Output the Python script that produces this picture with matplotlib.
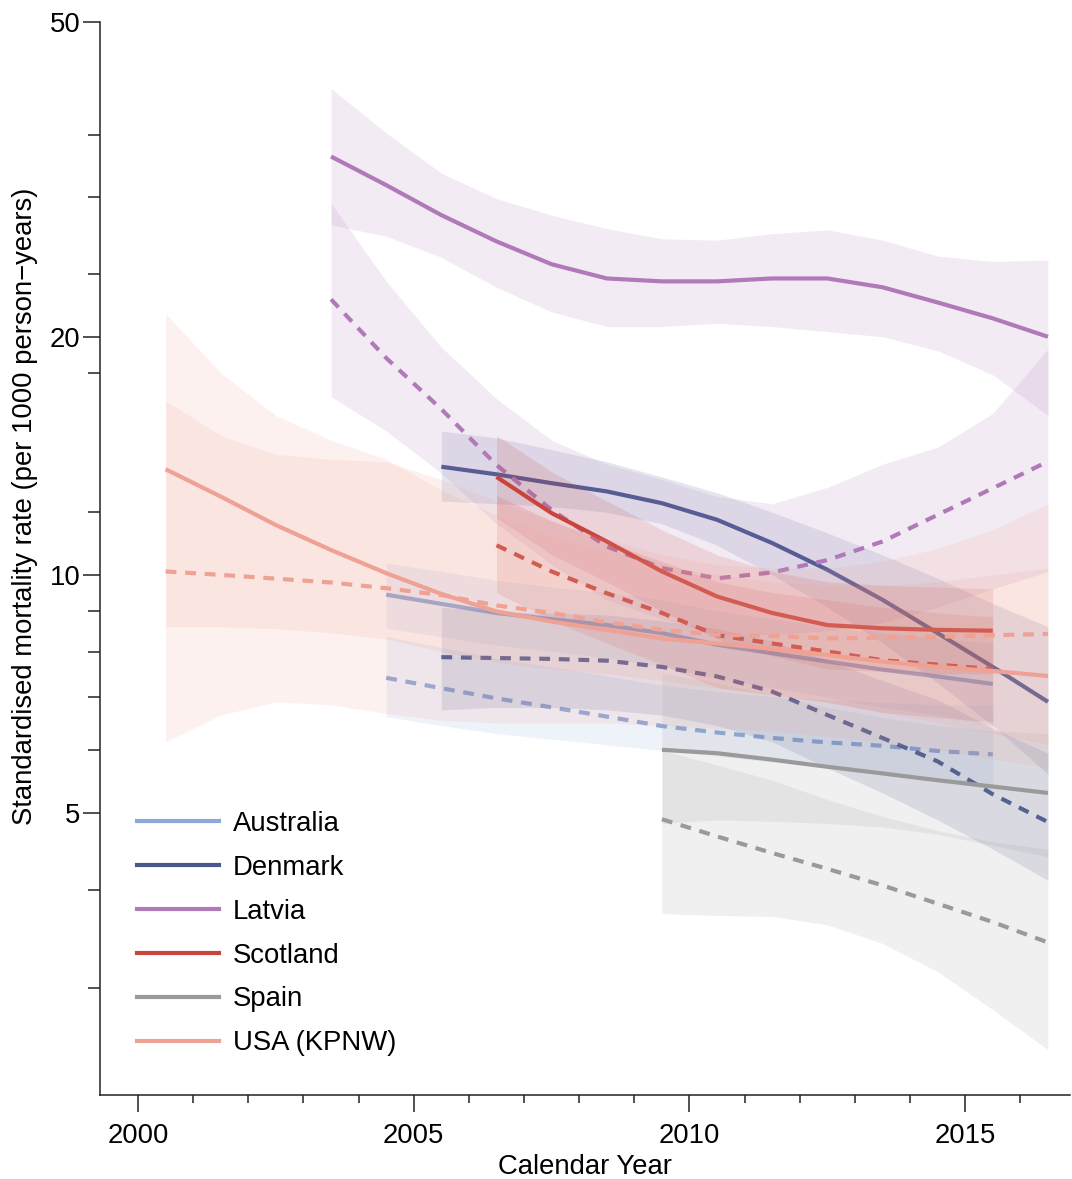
import matplotlib
matplotlib.use("Agg")
import matplotlib.pyplot as plt
from matplotlib.lines import Line2D

plt.rcParams['font.family'] = ['Liberation Sans', 'DejaVu Sans']

countries = ["Australia", "Denmark", "Latvia", "Scotland", "Spain", "USA (KPNW)"]
colors = ["#8EA7D8", "#4A5890", "#B07AB8", "#C9443C", "#9A9A9A", "#EFA193"]

# ---- Australia ----
aus_years = [2004.5, 2005.5, 2006.5, 2007.5, 2008.5, 2009.5, 2010.5, 2011.5, 2012.5, 2013.5, 2014.5, 2015.5]
aus_solid = [9.44, 9.19, 8.95, 8.79, 8.64, 8.44, 8.16, 7.96, 7.77, 7.59, 7.44, 7.28]
aus_solid_hi = [10.35, 10.1, 9.85, 9.65, 9.5, 9.3, 9.0, 8.8, 8.6, 8.45, 8.3, 8.2]
aus_solid_lo = [8.56, 8.35, 8.15, 8.0, 7.85, 7.65, 7.4, 7.2, 7.0, 6.8, 6.65, 6.45]
aus_dash = [7.41, 7.19, 6.98, 6.80, 6.62, 6.44, 6.32, 6.22, 6.14, 6.08, 5.99, 5.93]
aus_dash_hi = [8.36, 8.1, 7.85, 7.65, 7.45, 7.25, 7.12, 7.02, 6.95, 6.9, 6.85, 6.85]
aus_dash_lo = [6.62, 6.45, 6.3, 6.2, 6.1, 6.0, 5.9, 5.8, 5.7, 5.6, 5.5, 5.35]

# ---- Denmark ----
den_years = [2005.5, 2006.5, 2007.5, 2008.5, 2009.5, 2010.5, 2011.5, 2012.5, 2013.5, 2014.5, 2015.5, 2016.5]
den_solid = [13.7, 13.4, 13.06, 12.75, 12.32, 11.74, 10.97, 10.15, 9.30, 8.44, 7.65, 6.91]
den_solid_hi = [15.2, 14.9, 14.4, 13.9, 13.3, 12.7, 12.0, 11.3, 10.6, 9.9, 9.2, 8.6]
den_solid_lo = [12.4, 12.3, 12.2, 12.0, 11.6, 10.9, 10.0, 9.1, 8.2, 7.3, 6.45, 5.6]
den_dash = [7.87, 7.85, 7.83, 7.79, 7.65, 7.44, 7.12, 6.65, 6.22, 5.81, 5.28, 4.87]
den_dash_hi = [9.1, 9.0, 8.95, 8.9, 8.75, 8.55, 8.25, 7.8, 7.35, 6.95, 6.4, 5.95]
den_dash_lo = [6.75, 6.8, 6.8, 6.75, 6.65, 6.45, 6.15, 5.7, 5.3, 4.9, 4.5, 4.11]

# ---- Latvia ----
lat_years = [2003.5, 2004.5, 2005.5, 2006.5, 2007.5, 2008.5, 2009.5, 2010.5, 2011.5, 2012.5, 2013.5, 2014.5, 2015.5, 2016.5]
lat_solid = [33.8, 31.1, 28.5, 26.4, 24.7, 23.7, 23.5, 23.5, 23.7, 23.7, 23.1, 22.1, 21.1, 20.0]
lat_solid_hi = [41.2, 36.2, 32.2, 29.9, 28.5, 27.4, 26.6, 26.5, 27.0, 27.3, 26.5, 25.3, 24.9, 25.0]
lat_solid_lo = [27.7, 26.8, 25.2, 23.1, 21.5, 20.6, 20.6, 20.8, 20.6, 20.3, 20.0, 19.2, 17.9, 15.9]
lat_dash = [22.3, 18.8, 16.2, 13.77, 12.08, 10.86, 10.2, 9.90, 10.07, 10.44, 11.02, 11.91, 12.87, 13.91]
lat_dash_hi = [29.5, 23.5, 19.4, 16.7, 14.8, 13.8, 13.2, 12.56, 12.3, 12.9, 13.8, 14.5, 16.0, 19.3]
lat_dash_lo = [16.8, 15.2, 13.45, 11.6, 10.3, 9.3, 8.8, 8.4, 8.4, 8.5, 8.7, 9.1, 9.6, 10.1]

# ---- Scotland ----
sco_years = [2006.5, 2007.5, 2008.5, 2009.5, 2010.5, 2011.5, 2012.5, 2013.5, 2014.5, 2015.5]
sco_solid = [13.3, 11.97, 11.02, 10.1, 9.39, 8.95, 8.64, 8.56, 8.52, 8.50]
sco_solid_hi = [15.0, 13.5, 12.4, 11.4, 10.6, 10.1, 9.8, 9.7, 9.65, 9.6]
sco_solid_lo = [11.8, 10.6, 9.8, 9.0, 8.3, 7.9, 7.6, 7.55, 7.5, 7.5]
sco_dash = [10.9, 10.1, 9.48, 8.95, 8.39, 8.19, 8.00, 7.80, 7.70, 7.60]
sco_dash_hi = [12.6, 11.7, 11.0, 10.4, 9.8, 9.5, 9.3, 9.1, 8.95, 8.85]
sco_dash_lo = [9.5, 8.75, 8.2, 7.7, 7.2, 7.05, 6.9, 6.7, 6.6, 6.52]

# ---- Spain ----
spa_years = [2009.5, 2010.5, 2011.5, 2012.5, 2013.5, 2014.5, 2015.5, 2016.5]
spa_solid = [6.01, 5.95, 5.84, 5.72, 5.61, 5.50, 5.40, 5.30]
spa_solid_hi = [7.51, 7.3, 7.05, 6.8, 6.6, 6.45, 6.35, 6.3]
spa_solid_lo = [4.85, 4.9, 4.88, 4.85, 4.8, 4.7, 4.55, 4.4]
spa_dash = [4.91, 4.67, 4.45, 4.25, 4.05, 3.84, 3.64, 3.43]
spa_dash_hi = [6.0, 5.75, 5.5, 5.2, 4.95, 4.75, 4.6, 4.5]
spa_dash_lo = [3.73, 3.71, 3.70, 3.61, 3.42, 3.15, 2.82, 2.51]

# ---- USA (KPNW) ----
usa_years = [2000.5, 2001.5, 2002.5, 2003.5, 2004.5, 2005.5, 2006.5, 2007.5, 2008.5,
             2009.5, 2010.5, 2011.5, 2012.5, 2013.5, 2014.5, 2015.5, 2016.5]
usa_solid = [13.6, 12.56, 11.56, 10.75, 10.05, 9.46, 8.99, 8.73, 8.52, 8.31, 8.19, 8.06, 7.92, 7.77, 7.65, 7.56, 7.45]
usa_solid_hi = [21.4, 18.0, 15.9, 14.8, 14.0, 12.8, 11.9, 11.2, 10.7, 10.3, 10.0, 9.8, 9.7, 9.7, 9.8, 10.0, 10.2]
usa_solid_lo = [8.6, 8.6, 8.55, 8.45, 8.3, 8.0, 7.75, 7.6, 7.5, 7.35, 7.2, 7.05, 6.9, 6.7, 6.5, 6.3, 6.1]
usa_dash = [10.1, 10.0, 9.89, 9.78, 9.62, 9.43, 9.15, 8.95, 8.71, 8.52, 8.40, 8.37, 8.31, 8.33, 8.35, 8.39, 8.42]
usa_dash_hi = [16.6, 15.0, 14.2, 14.0, 13.9, 13.2, 12.4, 11.7, 11.1, 10.6, 10.3, 10.2, 10.2, 10.4, 10.8, 11.4, 12.3]
usa_dash_lo = [6.15, 6.65, 6.91, 6.85, 6.68, 6.55, 6.5, 6.5, 6.5, 6.45, 6.4, 6.35, 6.25, 6.15, 6.0, 5.85, 5.7]

series = [
    (aus_years, aus_solid, aus_solid_lo, aus_solid_hi, aus_dash, aus_dash_lo, aus_dash_hi),
    (den_years, den_solid, den_solid_lo, den_solid_hi, den_dash, den_dash_lo, den_dash_hi),
    (lat_years, lat_solid, lat_solid_lo, lat_solid_hi, lat_dash, lat_dash_lo, lat_dash_hi),
    (sco_years, sco_solid, sco_solid_lo, sco_solid_hi, sco_dash, sco_dash_lo, sco_dash_hi),
    (spa_years, spa_solid, spa_solid_lo, spa_solid_hi, spa_dash, spa_dash_lo, spa_dash_hi),
    (usa_years, usa_solid, usa_solid_lo, usa_solid_hi, usa_dash, usa_dash_lo, usa_dash_hi),
]

W, H = 1072, 1179
fig = plt.figure(figsize=(W / 100, H / 100), dpi=100)
ax = fig.add_axes([100 / W, 1 - 1095 / H, 970 / W, 1073 / H])

LW = 3.0
FS = 19.8
band_alpha = 0.145
z = 1
for (yrs, s, slo, shi, d, dlo, dhi), col in zip(series, colors):
    ax.fill_between(yrs, slo, shi, color=col, alpha=band_alpha, lw=0, zorder=z)
    ax.fill_between(yrs, dlo, dhi, color=col, alpha=band_alpha, lw=0, zorder=z + 1)
    ax.plot(yrs, d, color=col, lw=LW, linestyle=(0, (2.6, 2.1)),
            dash_capstyle='butt', zorder=z + 2)
    ax.plot(yrs, s, color=col, lw=LW, solid_capstyle='butt', zorder=z + 3)
    z += 4

ax.set_yscale('log')
ax.set_ylim(2.2, 50)
ax.set_xlim(1999.31, 2016.9)

ax.set_yticks([5, 10, 20, 50])
ax.set_yticklabels(["5", "10", "20", "50"])
ax.set_yticks([3, 4, 6, 7, 8, 9, 12, 18, 24, 30, 36], minor=True)
ax.yaxis.set_minor_formatter(plt.NullFormatter())
ax.set_xticks([2000, 2005, 2010, 2015])
ax.set_xticks(list(range(2001, 2017)), minor=True)

for side in ("top", "right"):
    ax.spines[side].set_visible(False)
for side in ("left", "bottom"):
    ax.spines[side].set_linewidth(1.1)
    ax.spines[side].set_color("#222222")

ax.tick_params(axis='y', which='major', length=12, width=1.1, colors="#222222",
               labelsize=FS, pad=2, labelcolor="black")
ax.tick_params(axis='y', which='minor', length=9, width=1.1, colors="#222222")
ax.tick_params(axis='x', which='major', length=12, width=1.1, colors="#222222",
               labelsize=FS, pad=8, labelcolor="black")
ax.tick_params(axis='x', which='minor', length=5.5, width=1.1, colors="#222222")

ax.set_xlabel("Calendar Year", fontsize=FS, labelpad=3.5)
ax.set_ylabel("Standardised mortality rate (per 1000 person\u2212years)", fontsize=FS)
ax.yaxis.set_label_coords(-0.064, 0.549)

handles = [Line2D([0], [0], color=c, lw=LW) for c in colors]
ax.legend(handles, countries, loc='lower left', bbox_to_anchor=(0.038, 0.036),
          frameon=False, fontsize=FS, handlelength=3.0, handletextpad=0.5,
          labelspacing=0.65, borderpad=0, borderaxespad=0)

fig.savefig("out.png", dpi=100)
